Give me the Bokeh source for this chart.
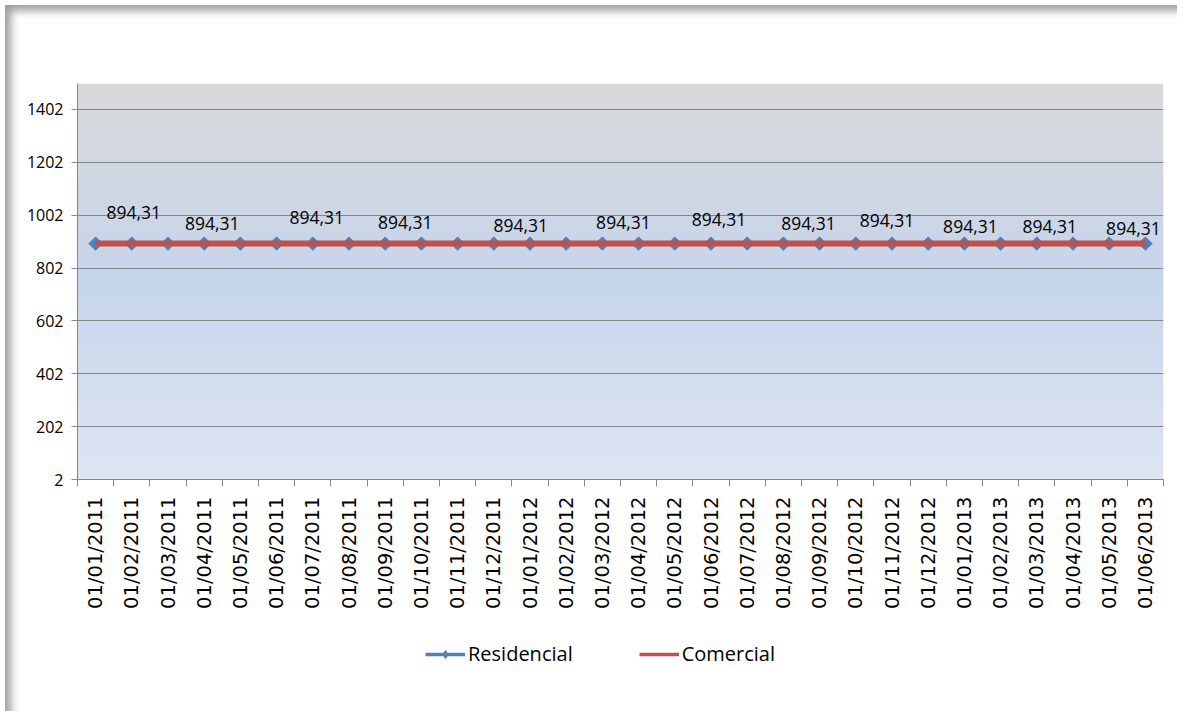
import numpy as np
from bokeh.plotting import figure
from bokeh.layouts import column
from bokeh.models import FixedTicker, Legend, LegendItem, ColumnDataSource
from bokeh.core.properties import value
from bokeh.embed import file_html
from bokeh.resources import INLINE

# ---- data ----
dates = ["01/01/2011", "01/02/2011", "01/03/2011", "01/04/2011", "01/05/2011", "01/06/2011",
         "01/07/2011", "01/08/2011", "01/09/2011", "01/10/2011", "01/11/2011", "01/12/2011",
         "01/01/2012", "01/02/2012", "01/03/2012", "01/04/2012", "01/05/2012", "01/06/2012",
         "01/07/2012", "01/08/2012", "01/09/2012", "01/10/2012", "01/11/2012", "01/12/2012",
         "01/01/2013", "01/02/2013", "01/03/2013", "01/04/2013", "01/05/2013", "01/06/2013"]
residencial = [894.31] * 30
comercial = [894.31] * 30
y_ticks = [2, 202, 402, 602, 802, 1002, 1202, 1402]
label_points = [1, 3, 6, 8, 11, 14, 17, 20, 22, 24, 26, 29]
series_names = ["Residencial", "Comercial"]

# ---- styling ----
label_dx = [2, 8, 4, 20, 27, 21, 8, -11, -5, 6, 13, -12]
label_dy = [-31, -20, -26, -21, -18, -21, -24, -20, -23, -17, -17, -15]
BLUE = "#4F81BD"
RED = "#C0504D"
AXIS = "#868686"
FONT = "Open Sans"
W = 1177

xs = list(range(len(dates)))
y_start, y_end = 2, 1500

p = figure(width=W, height=630, output_backend="svg", toolbar_location=None,
           x_range=(-0.5, len(dates) - 0.5), y_range=(y_start, y_end),
           min_border_left=77, min_border_right=14, min_border_top=83, min_border_bottom=151)
p.border_fill_color = None
p.background_fill_color = None
p.outline_line_color = None

# gradient plot-area background
n = 256
t = np.linspace(0, 1, n)
stops_t = [0.0, 0.5, 1.0]
stops_c = [(222, 230, 243), (199, 213, 236), (217, 217, 218)]
r = np.interp(t, stops_t, [c[0] for c in stops_c])
g = np.interp(t, stops_t, [c[1] for c in stops_c])
b = np.interp(t, stops_t, [c[2] for c in stops_c])
img = np.zeros((n, 1), dtype=np.uint32)
view = img.view(dtype=np.uint8).reshape((n, 1, 4))
view[:, 0, 0] = r.astype(np.uint8)
view[:, 0, 1] = g.astype(np.uint8)
view[:, 0, 2] = b.astype(np.uint8)
view[:, 0, 3] = 255
bg = p.image_rgba(image=[img], x=-0.5, y=y_start, dw=len(dates), dh=y_end - y_start)
bg.level = "image"

# axes
p.yaxis.ticker = FixedTicker(ticks=y_ticks)
p.yaxis.axis_line_color = AXIS
p.yaxis.major_tick_line_color = AXIS
p.yaxis.major_tick_out = 6
p.yaxis.major_tick_in = 0
p.yaxis.minor_tick_line_color = None
p.yaxis.major_label_standoff = 8
p.yaxis.major_label_text_font = FONT
p.yaxis.major_label_text_font_size = "16px"
p.yaxis.major_label_text_color = "#000000"

p.xaxis.ticker = FixedTicker(ticks=xs, minor_ticks=[i - 0.5 for i in range(len(dates) + 1)])
p.xaxis.major_label_overrides = {i: d for i, d in enumerate(dates)}
p.xaxis.major_label_orientation = np.pi / 2
p.xaxis.axis_line_color = AXIS
p.xaxis.major_tick_out = 0
p.xaxis.major_tick_in = 0
p.xaxis.minor_tick_line_color = AXIS
p.xaxis.minor_tick_out = 7
p.xaxis.minor_tick_in = 0
p.xaxis.major_label_standoff = 10
p.xaxis.major_label_text_font = "DejaVu Sans"
p.xaxis.major_label_text_font_size = "19.5px"
p.xaxis.major_label_text_color = "#000000"

p.xgrid.grid_line_color = None
p.ygrid.grid_line_color = AXIS
p.ygrid.grid_line_width = 1

# series
src = ColumnDataSource(dict(x=xs, res=residencial, com=comercial))
p.line("x", "res", source=src, line_color=BLUE, line_width=3)
p.scatter("x", "res", source=src, marker="square", angle=np.pi / 4, size=9.5,
          fill_color=BLUE, line_color=BLUE)
p.line("x", "com", source=src, line_color=RED, line_width=6)

# data labels
lab = ColumnDataSource(dict(
    x=[xs[i] for i in label_points],
    y=[residencial[i] for i in label_points],
    t=[f"{residencial[i]:.2f}".replace(".", ",") for i in label_points],
    dx=label_dx, dy=label_dy))
p.text("x", "y", text="t", source=lab, x_offset="dx", y_offset="dy",
       text_align="center", text_baseline="middle",
       text_font=value(FONT), text_font_size="17.5px", text_color="#000000")

# legend strip (separate plot below the chart; its series lie outside its ranges)
pl = figure(width=W, height=81, output_backend="svg", toolbar_location=None,
            x_range=(-100, -99), y_range=(-100, -99), x_axis_location=None, y_axis_location=None,
            min_border_left=0, min_border_right=0, min_border_top=0, min_border_bottom=0)
pl.border_fill_color = None
pl.background_fill_color = None
pl.outline_line_color = None
pl.grid.grid_line_color = None
lbl = pl.line("x", "res", source=src, line_color=BLUE, line_width=3.5)
lbs = pl.scatter("x", "res", source=src, marker="diamond", size=15,
                 fill_color=BLUE, line_color=BLUE)
lrl = pl.line("x", "com", source=src, line_color=RED, line_width=3.5)

legend = Legend(items=[LegendItem(label=series_names[0], renderers=[lbl, lbs]),
                       LegendItem(label=series_names[1], renderers=[lrl])],
                orientation="horizontal", location=(348, 44))
legend.background_fill_alpha = 0
legend.border_line_color = None
legend.padding = 0
legend.margin = 0
legend.spacing = 66
legend.glyph_width = 40
legend.glyph_height = 20
legend.label_height = 20
legend.label_standoff = 3
legend.label_text_font = FONT
legend.label_text_font_size = "20px"
legend.label_text_color = "#000000"
pl.add_layout(legend, "center")

layout = column(p, pl, spacing=0)
layout.styles = {"box-shadow": "inset 5px 5px 0px 0px #ffffff, inset 14px 14px 9px -3px rgba(0,0,0,0.38)"}

open("out.html", "w").write(file_html(layout, INLINE))
